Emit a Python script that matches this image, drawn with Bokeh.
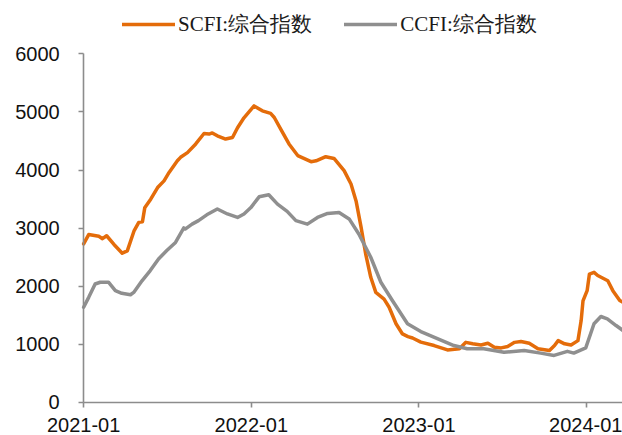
import pandas as pd
from bokeh.plotting import figure
from bokeh.models import Legend, LegendItem, FixedTicker, DatetimeTickFormatter, Range1d
from bokeh.embed import file_html
from bokeh.resources import INLINE

# ---- data ----
scfi_dates = ["2021-01-01", "2021-01-12", "2021-02-03", "2021-02-11", "2021-02-20", "2021-03-08",
              "2021-03-26", "2021-04-06", "2021-04-21", "2021-05-01", "2021-05-09", "2021-05-14",
              "2021-05-27", "2021-06-11", "2021-06-25", "2021-07-06", "2021-07-24", "2021-07-31",
              "2021-08-15", "2021-09-02", "2021-09-20", "2021-10-01", "2021-10-08", "2021-10-19",
              "2021-11-06", "2021-11-21", "2021-12-02", "2021-12-16", "2022-01-07", "2022-01-25",
              "2022-02-12", "2022-02-20", "2022-03-06", "2022-03-24", "2022-04-12", "2022-05-11",
              "2022-05-22", "2022-06-12", "2022-06-30", "2022-07-22", "2022-08-06", "2022-08-17",
              "2022-08-28", "2022-09-07", "2022-09-18", "2022-09-29", "2022-10-17", "2022-10-28",
              "2022-11-12", "2022-11-26", "2022-12-08", "2022-12-18", "2023-01-05", "2023-02-03",
              "2023-03-04", "2023-03-30", "2023-04-13", "2023-04-28", "2023-05-16", "2023-05-31",
              "2023-06-14", "2023-06-29", "2023-07-13", "2023-07-28", "2023-08-11", "2023-08-29",
              "2023-09-17", "2023-10-12", "2023-10-23", "2023-10-31", "2023-11-14", "2023-11-28",
              "2023-12-13", "2023-12-20", "2023-12-24", "2024-01-02", "2024-01-07", "2024-01-17",
              "2024-01-25", "2024-02-16", "2024-02-27", "2024-03-13", "2024-03-20"]
scfi_values = [2730, 2890, 2860, 2820, 2870, 2720,
               2570, 2610, 2960, 3100, 3110, 3350,
               3500, 3700, 3815, 3960, 4160, 4220,
               4300, 4450, 4630, 4620, 4640, 4590,
               4535, 4560, 4730, 4900, 5105, 5020,
               4975, 4905, 4705, 4450, 4250, 4145,
               4160, 4230, 4200, 3990, 3760, 3470,
               3015, 2555, 2155, 1895, 1780, 1640,
               1355, 1180, 1135, 1110, 1040, 980,
               905, 925, 1035, 1010, 990, 1020,
               950, 940, 965, 1035, 1050, 1020,
               925, 895, 980, 1065, 1010, 990,
               1065, 1410, 1750, 1925, 2210, 2240,
               2185, 2095, 1925, 1755, 1725]

ccfi_dates = ["2021-01-01", "2021-01-12", "2021-01-26", "2021-02-06", "2021-02-24", "2021-03-11",
              "2021-03-25", "2021-04-13", "2021-04-20", "2021-05-08", "2021-05-26", "2021-06-13",
              "2021-07-01", "2021-07-20", "2021-08-07", "2021-08-10", "2021-08-25", "2021-09-08",
              "2021-09-26", "2021-10-19", "2021-11-10", "2021-12-02", "2021-12-16", "2021-12-31",
              "2022-01-18", "2022-02-08", "2022-02-27", "2022-03-20", "2022-04-08", "2022-05-03",
              "2022-05-25", "2022-06-16", "2022-07-11", "2022-08-02", "2022-08-23", "2022-09-18",
              "2022-10-10", "2022-11-04", "2022-12-07", "2023-01-05", "2023-02-10", "2023-03-18",
              "2023-04-16", "2023-05-22", "2023-07-05", "2023-08-18", "2023-09-23", "2023-10-22",
              "2023-11-20", "2023-12-04", "2023-12-30", "2024-01-17", "2024-02-01", "2024-02-15",
              "2024-03-05", "2024-03-20"]
ccfi_values = [1640, 1810, 2040, 2070, 2070, 1925,
               1880, 1855, 1895, 2095, 2270, 2470,
               2615, 2755, 3005, 2985, 3070, 3130,
               3230, 3330, 3245, 3185, 3245, 3355,
               3540, 3575, 3415, 3290, 3130, 3070,
               3185, 3255, 3270, 3160, 2900, 2500,
               2070, 1755, 1355, 1220, 1100, 980,
               925, 925, 865, 895, 850, 810,
               880, 850, 940, 1355, 1480, 1440,
               1325, 1240]

series_names = ["SCFI:综合指数", "CCFI:综合指数"]
x_tick_labels = ["2021-01", "2022-01", "2023-01", "2024-01"]
y_ticks = [0, 1000, 2000, 3000, 4000, 5000, 6000]

ORANGE = "#E46C0A"
GREY = "#8F8F8F"
AXIS = "#8C8C8C"

x_start = pd.Timestamp("2021-01-01")
x_end = pd.Timestamp("2024-03-19")

# The frame covers the whole figure; both axes are pinned at the data origin
# so that the legend (above 6000) and the labels (below 0 / left of 2021-01)
# sit inside the drawing area.
p = figure(width=622, height=435, output_backend="svg", toolbar_location=None,
           x_axis_type="datetime",
           x_range=Range1d(pd.Timestamp("2020-07-04"), x_end),
           y_range=Range1d(-568, 6919),
           min_border_left=0, min_border_right=0, min_border_top=0, min_border_bottom=0)
p.outline_line_color = None
p.xgrid.visible = False
p.ygrid.visible = False
p.background_fill_color = "white"

r1 = p.line(pd.to_datetime(scfi_dates), scfi_values, line_color=ORANGE, line_width=3.5,
            line_join="round", line_cap="round")
r2 = p.line(pd.to_datetime(ccfi_dates), ccfi_values, line_color=GREY, line_width=3.5,
            line_join="round", line_cap="round")

# axes
xt = [pd.Timestamp(s).value // 10**6 for s in x_tick_labels]
p.xaxis.ticker = FixedTicker(ticks=xt)
fmt = "%Y-%m"
p.xaxis.formatter = DatetimeTickFormatter(years=fmt, months=fmt, days=fmt, hours=fmt,
                                          minutes=fmt, seconds=fmt, milliseconds=fmt,
                                          microseconds=fmt, minsec=fmt, hourmin=fmt)
p.xaxis.fixed_location = 0
p.xaxis.bounds = (x_start.value // 10**6, x_end.value // 10**6)
p.yaxis.ticker = FixedTicker(ticks=y_ticks)
p.yaxis.fixed_location = x_start.value // 10**6
p.yaxis.bounds = (0, 6000)
for ax in (p.xaxis, p.yaxis):
    ax.axis_line_color = AXIS
    ax.axis_line_width = 1.6
    ax.major_tick_line_color = AXIS
    ax.major_tick_line_width = 1.6
    ax.major_tick_in = 0
    ax.major_tick_out = 5
    ax.minor_tick_line_color = None
    ax.major_label_text_font = "Liberation Sans"
    ax.major_label_text_font_size = "20px"
    ax.major_label_text_color = "#111111"
p.xaxis.major_label_standoff = 11
p.yaxis.major_label_standoff = 19

legend = Legend(items=[LegendItem(label=series_names[0], renderers=[r1]),
                       LegendItem(label=series_names[1], renderers=[r2])],
                orientation="horizontal", location=(122, 397))
legend.glyph_width = 53
legend.glyph_height = 22
legend.label_height = 22
legend.label_standoff = 3
legend.spacing = 32
legend.padding = 0
legend.margin = 0
legend.border_line_color = None
legend.background_fill_alpha = 0
legend.label_text_font = "Liberation Serif"
legend.label_text_font_size = "21px"
legend.label_text_color = "#1a1a1a"
p.add_layout(legend, "center")

open("out.html", "w").write(file_html(p, INLINE))
